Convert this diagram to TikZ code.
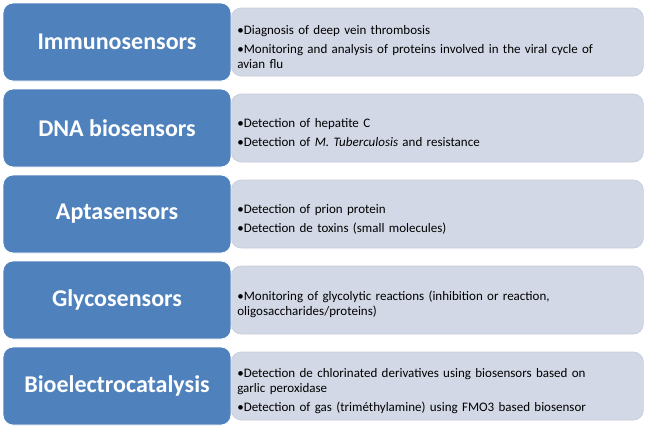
\documentclass[tikz,border=0pt]{standalone}
\usepackage{fontspec}
\setmainfont{Carlito}
\usepackage{tikz}

\definecolor{sensorblue}{RGB}{79,129,189}
\definecolor{usegray}{RGB}{210,216,230}
\definecolor{useedge}{RGB}{196,203,218}

\newcommand\bul[1]{\par\noindent\setbox0\hbox{\textbullet}\hangindent=\wd0\hangafter=1 \box0#1\par}

\begin{document}
\begin{tikzpicture}[x=0.75pt, y=-0.75pt,
    sensor/.style={draw=white, line width=0.6pt, fill=sensorblue, rounded corners=7.5pt,
      minimum width=171pt, minimum height=58.5pt, text=white,
      font=\fontsize{18}{21}\selectfont\bfseries},
    uses/.style={draw=useedge, line width=0.5pt, fill=usegray, rounded corners=7.5pt,
      minimum height=51pt, text width=300pt, inner xsep=4.5pt, align=left,
      font=\fontsize{9.75}{11.25}\selectfont,
      execute at begin node=\setlength\parskip{3pt}}]
  \useasboundingbox (0,0) rectangle (648,429);
  \foreach \i/\y/\name/\items in {
      1/42/{Immunosensors}/{\bul{Diagnosis of deep vein thrombosis}\bul{Monitoring and analysis of proteins involved in the viral cycle of\\avian flu}},
      2/128/{DNA biosensors}/{\bul{Detection of hepatite C}\bul{Detection of \textit{M. Tuberculosis} and resistance}},
      3/214/{Aptasensors}/{\bul{Detection of prion protein}\bul{Detection de toxins (small molecules)}},
      4/300/{Glycosensors}/{\bul{Monitoring of glycolytic reactions (inhibition or reaction,\\oligosaccharides/proteins)}},
      5/386/{Bioelectrocatalysis}/{\bul{Detection de chlorinated derivatives using biosensors based on\\garlic peroxidase}\bul{Detection of gas (triméthylamine) using FMO3 based biosensor}}} {
    \node[uses, anchor=west] (use\i) at (231,\y) {\items};
    \node[sensor] (sensor\i) at (117,\y) {\name};
  }
\end{tikzpicture}
\end{document}
